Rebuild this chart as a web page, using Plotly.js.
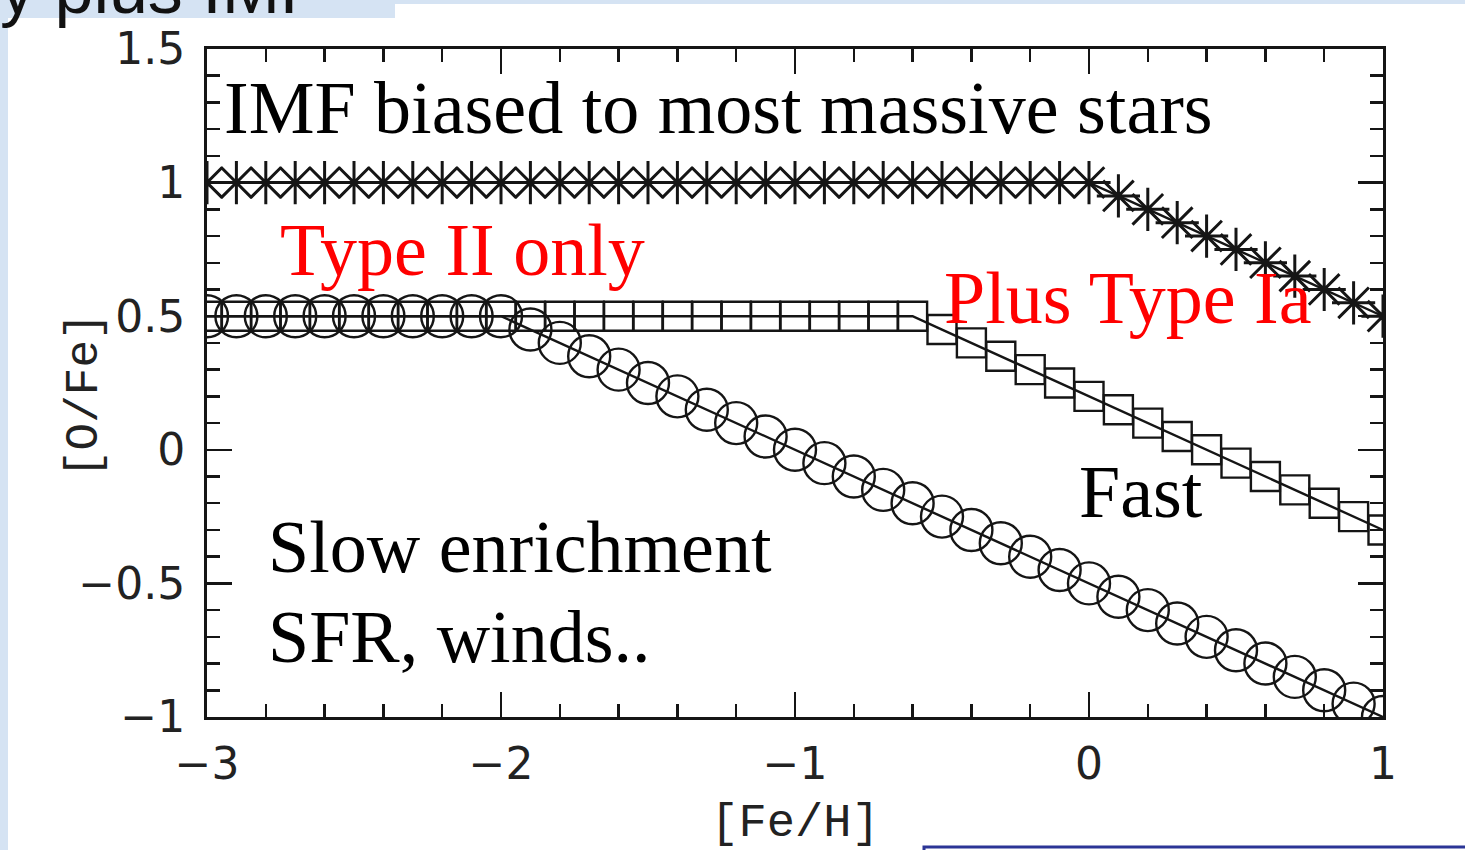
<!DOCTYPE html>
<html>
<head>
<meta charset="utf-8">
<script src="https://cdn.plot.ly/plotly-3.0.1.min.js"></script>
<style>
  html, body { margin: 0; padding: 0; background: #ffffff; }
  #chart { width: 1465px; height: 850px; }
</style>
</head>
<body>
<div id="chart"></div>
<script>
// [Fe/H] grid shared by the three model tracks
const feH = [
  -3.0, -2.9, -2.8, -2.7, -2.6, -2.5, -2.4, -2.3, -2.2, -2.1,
  -2.0, -1.9, -1.8, -1.7, -1.6, -1.5, -1.4, -1.3, -1.2, -1.1,
  -1.0, -0.9, -0.8, -0.7, -0.6, -0.5, -0.4, -0.3, -0.2, -0.1,
   0.0,  0.1,  0.2,  0.3,  0.4,  0.5,  0.6,  0.7,  0.8,  0.9,
   1.0
];

// [O/Fe] for an IMF weighted toward the most massive stars (asterisks)
const ofeMassiveIMF = [
  1.00, 1.00, 1.00, 1.00, 1.00, 1.00, 1.00, 1.00, 1.00, 1.00,
  1.00, 1.00, 1.00, 1.00, 1.00, 1.00, 1.00, 1.00, 1.00, 1.00,
  1.00, 1.00, 1.00, 1.00, 1.00, 1.00, 1.00, 1.00, 1.00, 1.00,
  1.00, 0.95, 0.90, 0.85, 0.80, 0.75, 0.70, 0.65, 0.60, 0.55,
  0.50
];

// [O/Fe] for slow enrichment (circles)
const ofeSlow = [
  0.50, 0.50, 0.50, 0.50, 0.50, 0.50, 0.50, 0.50, 0.50, 0.50,
  0.50, 0.45, 0.40, 0.35, 0.30, 0.25, 0.20, 0.15, 0.10, 0.05,
  0.00, -0.05, -0.10, -0.15, -0.20, -0.25, -0.30, -0.35, -0.40, -0.45,
  -0.50, -0.55, -0.60, -0.65, -0.70, -0.75, -0.80, -0.85, -0.90, -0.95,
  -1.00
];

// [O/Fe] for fast enrichment (squares)
const ofeFast = [
  0.50, 0.50, 0.50, 0.50, 0.50, 0.50, 0.50, 0.50, 0.50, 0.50,
  0.50, 0.50, 0.50, 0.50, 0.50, 0.50, 0.50, 0.50, 0.50, 0.50,
  0.50, 0.50, 0.50, 0.50, 0.50, 0.45, 0.40, 0.35, 0.30, 0.25,
  0.20, 0.15, 0.10, 0.05, 0.00, -0.05, -0.10, -0.15, -0.20, -0.25,
  -0.30
];

const xTickVals = [-3, -2, -1, 0, 1];
const xTickText = ['\u22123', '\u22122', '\u22121', '0', '1'];
const yTickVals = [-1, -0.5, 0, 0.5, 1, 1.5];
const yTickText = ['\u22121', '\u22120.5', '0', '0.5', '1', '1.5'];

// Plot-area geometry in pixels (used to place page decorations)
const W = 1465, H = 850;
const L = 207, R = 1383, T = 49, B = 717;
const px = v => (v - L) / (R - L);
const py = v => (B - v) / (B - T);

const ink = '#151515';

function track(y, symbol, size, lw) {
  return {
    x: feH, y: y, type: 'scatter', mode: 'lines+markers',
    line: { color: ink, width: 2.4 },
    marker: { symbol: symbol, size: size, color: ink, line: { color: ink, width: lw } },
    cliponaxis: true, hoverinfo: 'x+y', showlegend: false
  };
}

const data = [
  track(ofeFast, 'square-open', 29, 2.4),
  track(ofeSlow, 'circle-open', 42, 2.4),
  track(ofeMassiveIMF, 'asterisk-open', 36, 3)
];

const serif = 'Liberation Serif, Times New Roman, serif';

function label(text, x, y, color) {
  return {
    text: text, x: x, y: y, xref: 'x', yref: 'y',
    xanchor: 'left', yanchor: 'middle', showarrow: false,
    font: { family: serif, size: 74, color: color }
  };
}

const axisCommon = {
  showgrid: false, zeroline: false,
  showline: true, linecolor: ink, linewidth: 3, mirror: 'ticks',
  ticks: 'inside', ticklen: 25, tickwidth: 2.5, tickcolor: ink,
  tickfont: { family: 'DejaVu Sans, sans-serif', size: 44, color: '#222' },
  fixedrange: true
};

const layout = {
  width: W, height: H,
  margin: { l: L, r: W - R, t: T, b: H - B, autoexpand: false },
  paper_bgcolor: '#ffffff', plot_bgcolor: '#ffffff',
  showlegend: false,
  xaxis: Object.assign({}, axisCommon, {
    range: [-3, 1],
    tickvals: xTickVals, ticktext: xTickText,
    ticklabelstandoff: 6,
    minor: { dtick: 0.2, tick0: -3, ticks: 'inside', ticklen: 13, tickwidth: 2.5, tickcolor: ink },
    title: { text: '[Fe/H]', standoff: 18,
             font: { family: 'Liberation Mono, Courier New, monospace', size: 47, color: '#222' } },
    automargin: false
  }),
  yaxis: Object.assign({}, axisCommon, {
    range: [-1, 1.5],
    tickvals: yTickVals, ticktext: yTickText,
    ticklabelstandoff: 10,
    minor: { dtick: 0.1, tick0: -1, ticks: 'inside', ticklen: 13, tickwidth: 2.5, tickcolor: ink },
    automargin: false
  }),
  shapes: [
    // slide frame
    { type: 'rect', xref: 'paper', yref: 'paper', layer: 'below',
      x0: px(0), x1: px(8), y0: py(H + 5), y1: py(-5),
      fillcolor: '#d5e3f3', line: { width: 0 } },
    { type: 'rect', xref: 'paper', yref: 'paper', layer: 'below',
      x0: px(0), x1: px(W + 5), y0: py(4), y1: py(-5),
      fillcolor: '#d5e3f3', line: { width: 0 } },
    { type: 'rect', xref: 'paper', yref: 'paper', layer: 'below',
      x0: px(0), x1: px(395), y0: py(18), y1: py(-5),
      fillcolor: '#d5e3f3', line: { width: 0 } },
    // outline of the next panel
    { type: 'rect', xref: 'paper', yref: 'paper', layer: 'below',
      x0: px(924), x1: px(W + 10), y0: py(H + 20), y1: py(847),
      fillcolor: 'rgba(0,0,0,0)', line: { color: '#2b3596', width: 3 } }
  ],
  annotations: [
    {
      text: 'y plus IMF', xref: 'paper', yref: 'paper',
      x: px(-2), y: py(-11), xanchor: 'left', yanchor: 'middle', showarrow: false,
      font: { family: 'Liberation Sans, Arial, sans-serif', size: 70, color: '#111' }
    },
    {
      text: '[O/Fe]', xref: 'paper', yref: 'paper',
      x: px(85), y: py(395), xanchor: 'center', yanchor: 'middle',
      textangle: -90, showarrow: false,
      font: { family: 'Liberation Mono, Courier New, monospace', size: 46, color: '#222' }
    },
    label('IMF biased to most massive stars', -2.95, 1.279, '#000000'),
    label('Type II only', -2.76, 0.748, '#ff0000'),
    label('Plus Type Ia', -0.50, 0.568, '#ff0000'),
    label('Fast', -0.04, -0.158, '#000000'),
    label('Slow enrichment', -2.80, -0.364, '#000000'),
    label('SFR, winds..', -2.80, -0.700, '#000000')
  ]
};

Plotly.newPlot('chart', data, layout, { displayModeBar: false, staticPlot: true });
</script>
</body>
</html>
